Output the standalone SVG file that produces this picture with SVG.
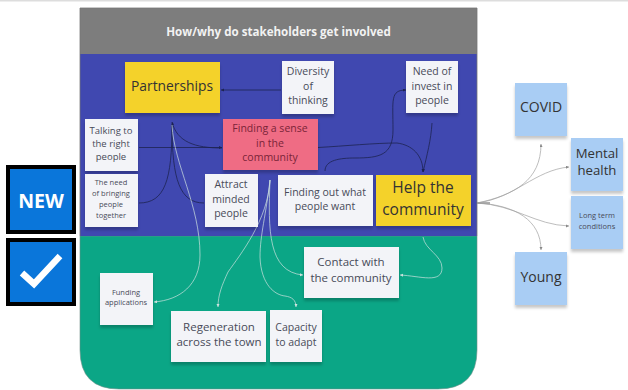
<svg xmlns="http://www.w3.org/2000/svg" width="628" height="390" viewBox="0 0 628 390">
<defs>
<filter id="sh" x="-10%" y="-10%" width="120%" height="125%"><feDropShadow dx="0" dy="3" stdDeviation="1.500" flood-color="#000" flood-opacity=".22"/></filter>
<marker id="ad" markerUnits="userSpaceOnUse" markerWidth="5" markerHeight="5" refX="3" refY="1.500" orient="auto"><path d="M0 0L3 1.500L0 3Z" fill="#1d2350"/></marker>
<marker id="al" markerUnits="userSpaceOnUse" markerWidth="5" markerHeight="5" refX="3" refY="1.500" orient="auto"><path d="M0 0L3 1.500L0 3Z" fill="#cfe3df"/></marker>
<marker id="ag" markerUnits="userSpaceOnUse" markerWidth="5" markerHeight="5" refX="3" refY="1.500" orient="auto"><path d="M0 0L3 1.500L0 3Z" fill="#888"/></marker>
</defs>
<style>
text{font-family:"Open Sans","Noto Sans",sans-serif;text-anchor:middle;fill:#484b58}
.w{fill:#f3f4f8}.y{fill:#f4d22c}.b{fill:#a9cdf4}.p{fill:#ef6c84}
.n rect{filter:url(#sh)}
.d{fill:none;stroke:#1d2350;stroke-width:.8;marker-end:url(#ad)}
.d0{fill:none;stroke:#1d2350;stroke-width:.8}
.l{fill:none;stroke:#cfe3df;stroke-width:.7;marker-end:url(#al)}
.l0{fill:none;stroke:#cfe3df;stroke-width:.7}
.g{fill:none;stroke:#a0a0a0;stroke-width:.7;marker-end:url(#ag)}
</style>
<rect width="628" height="1.500" fill="#ddd"/>
<g id="panel">
<path d="M80 236H477V350Q477 389 438 389H119Q80 389 80 350Z" fill="#0ba686" stroke="#6f8f88" stroke-width=".6"/>
<rect x="80" y="54" width="397" height="182" fill="#4048b0"/>
<rect x="80" y="8" width="397" height="46" fill="#7d7d7d"/>
<path d="M80 8H477V236M80 8V236" fill="none" stroke="#777" stroke-width=".8"/>
<text x="278.500" y="36" font-size="11.600" font-weight="700" style="fill:#f2f2f2">How/why do stakeholders get involved</text>
</g>
<g id="badge-new"><rect x="8" y="167" width="66" height="65" fill="#0a76da" stroke="#000" stroke-width="4"/><text x="41" y="208" font-size="19.500" font-weight="700" style="fill:#fff">NEW</text></g>
<g id="badge-check"><rect x="8" y="240" width="66" height="64" fill="#0a76da" stroke="#000" stroke-width="4"/><path d="M22 273L34 284L60 256" fill="none" stroke="#fff" stroke-width="6.500"/></g>
<g id="connectors">
<path class="d" d="M281 90H221"/>
<path class="d" d="M139 147.500H222"/>
<path class="d" d="M222 148C195 148 177 142 172 122"/>
<path class="d0" d="M139 203C165 203 172 180 172 125"/>
<path class="d0" d="M204 203C180 203 172 180 172 125"/>
<path class="d" d="M318 147.500C345 146 375 143 397 143C412 145 423 155 423 172"/>
<path class="d" d="M432 123C431 140 427 155 423 172"/>
<path class="d" d="M325 171C325 160 340 158 355 158C380 158 393 155 393 130C393 100 390 90 406 90"/>
<path class="l0" d="M172 125C174 165 200 205 200 255"/>
<path class="l" d="M200 255C200 285 180 300 154 302"/>
<path class="l" d="M270 180C268 220 240 255 228 272C222 285 218 295 218 307"/>
<path class="l" d="M270 180C266 215 260 235 260 257C261 285 275 295 285 296C292 297 296 300 296 307"/>
<path class="l" d="M270 180C268 230 268 272 303 275"/>
<path class="l" d="M423 237C425 250 442 255 442 268C442 284 420 276 400 275"/>
<path class="d0" d="M477 203H490" style="stroke:#333"/>
<path class="g" d="M477 203C515 195 541 180 541 144"/>
<path class="g" d="M477 203C515 198 535 170 569 167"/>
<path class="g" d="M477 203C515 205 535 225 569 226"/>
<path class="g" d="M477 203C515 205 541 220 541 250"/>
</g>
<g id="n-partnerships" class="n"><rect class="y" x="125" y="62" width="95" height="51"/><text x="172" y="91" font-size="13.800" style="fill:#333">Partnerships</text></g>
<g id="n-diversity" class="n"><rect class="w" x="282" y="61" width="52" height="53"/><text font-size="10.500"><tspan x="308" y="75">Diversity</tspan><tspan x="308" y="90">of</tspan><tspan x="308" y="104">thinking</tspan></text></g>
<g id="n-invest" class="n"><rect class="w" x="406" y="61" width="52" height="52"/><text font-size="10.500"><tspan x="432" y="75">Need of</tspan><tspan x="432" y="90">invest in</tspan><tspan x="432" y="104">people</tspan></text></g>
<g id="n-talking" class="n"><rect class="w" x="85" y="119" width="53" height="52"/><text font-size="9.500"><tspan x="111" y="134">Talking to</tspan><tspan x="111" y="147">the right</tspan><tspan x="111" y="160">people</tspan></text></g>
<g id="n-sense" class="n"><rect class="p" x="223" y="119" width="95" height="51"/><text font-size="10.500" style="fill:#7a2438"><tspan x="270" y="132">Finding a sense</tspan><tspan x="270" y="147">in the</tspan><tspan x="270" y="161">community</tspan></text></g>
<g id="n-need" class="n"><rect class="w" x="85" y="174" width="53" height="53"/><text font-size="7.500"><tspan x="111" y="185">The need</tspan><tspan x="111" y="196">of bringing</tspan><tspan x="111" y="207">people</tspan><tspan x="111" y="218">together</tspan></text></g>
<g id="n-attract" class="n"><rect class="w" x="205" y="174" width="53" height="53"/><text font-size="10.500"><tspan x="231" y="188">Attract</tspan><tspan x="231" y="203">minded</tspan><tspan x="231" y="217">people</tspan></text></g>
<g id="n-findout" class="n"><rect class="w" x="278" y="175" width="95" height="51"/><text font-size="10.500"><tspan x="325" y="196">Finding out what</tspan><tspan x="325" y="210">people want</tspan></text></g>
<g id="n-help" class="n"><rect class="y" x="376" y="175" width="95" height="51"/><text font-size="15.500" style="fill:#333"><tspan x="423" y="193">Help the</tspan><tspan x="423" y="215">community</tspan></text></g>
<g id="n-contact" class="n"><rect class="w" x="304" y="247" width="95" height="51"/><text font-size="11.500"><tspan x="351" y="266">Contact with</tspan><tspan x="351" y="282">the community</tspan></text></g>
<g id="n-funding" class="n"><rect class="w" x="100" y="273" width="53" height="52"/><text font-size="7.500"><tspan x="126" y="295">Funding</tspan><tspan x="126" y="305">applications</tspan></text></g>
<g id="n-regen" class="n"><rect class="w" x="171" y="311" width="95" height="51"/><text font-size="11.500"><tspan x="219" y="331">Regeneration</tspan><tspan x="219" y="346">across the town</tspan></text></g>
<g id="n-capacity" class="n"><rect class="w" x="270" y="310" width="52" height="52"/><text font-size="10.500"><tspan x="296" y="331">Capacity</tspan><tspan x="296" y="346">to adapt</tspan></text></g>
<g id="n-covid" class="n"><rect class="b" x="515" y="83" width="52" height="53"/><text x="541" y="112" font-size="14" style="fill:#333">COVID</text></g>
<g id="n-mental" class="n"><rect class="b" x="571" y="138" width="52" height="53"/><text font-size="13.200" style="fill:#333"><tspan x="597" y="158">Mental</tspan><tspan x="597" y="175">health</tspan></text></g>
<g id="n-long" class="n"><rect class="b" x="571" y="196" width="52" height="53"/><text font-size="7.500"><tspan x="597" y="218">Long term</tspan><tspan x="597" y="229">conditions</tspan></text></g>
<g id="n-young" class="n"><rect class="b" x="515" y="252" width="52" height="53"/><text x="541" y="282" font-size="14" style="fill:#333">Young</text></g>
</svg>
